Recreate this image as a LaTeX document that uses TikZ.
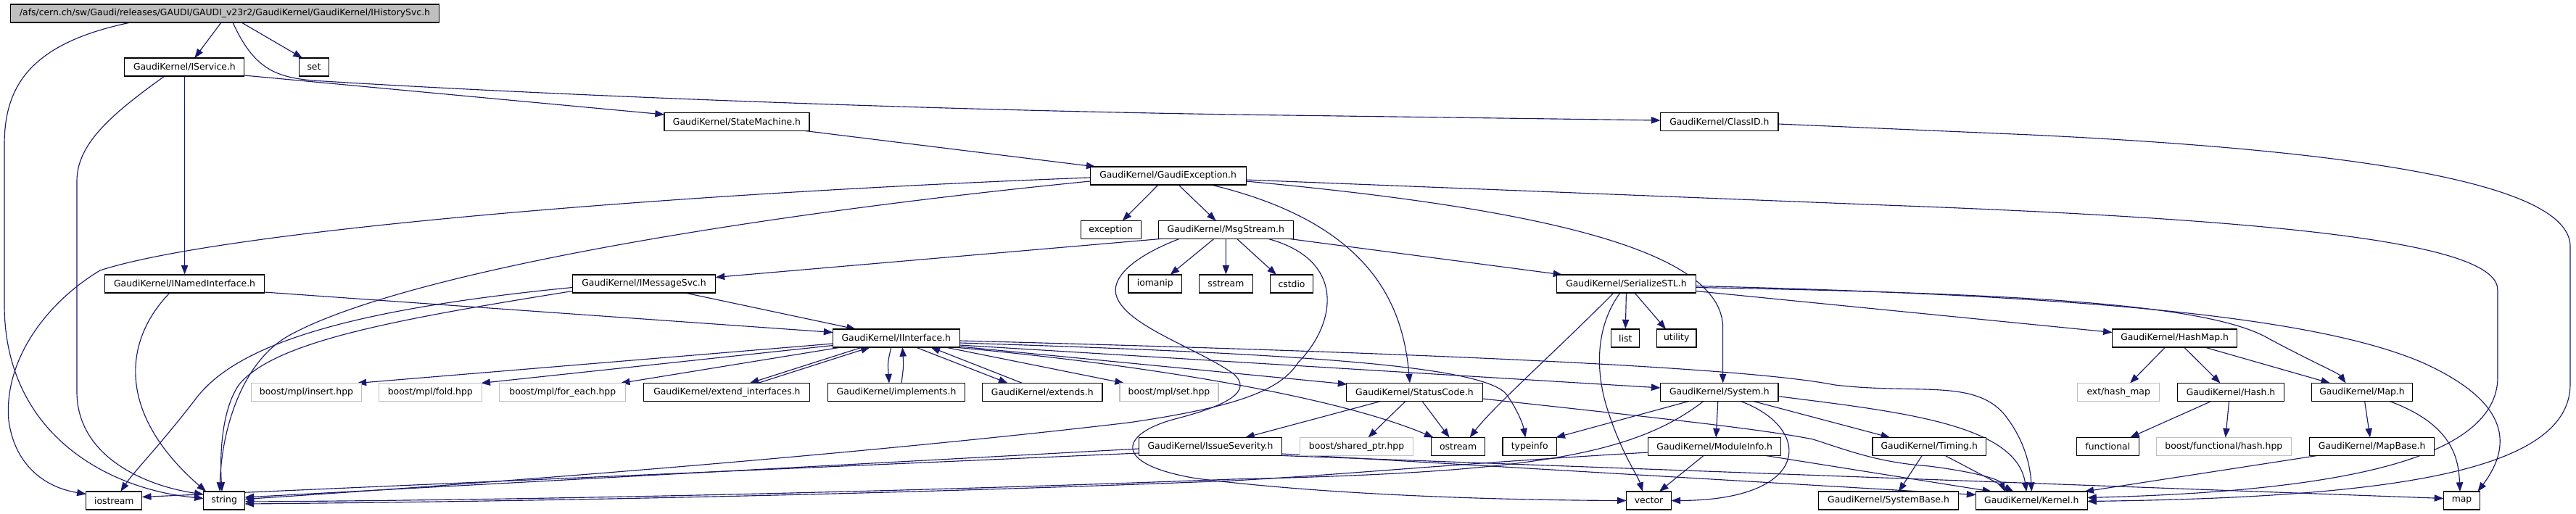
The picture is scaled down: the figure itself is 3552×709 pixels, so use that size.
\documentclass[tikz,border=0pt]{standalone}
\usepackage{fontspec}
\setmainfont{DejaVu Sans}
\usetikzlibrary{arrows.meta,calc,backgrounds}
\definecolor{edgecol}{HTML}{191970}
\definecolor{rootfill}{HTML}{BFBFBF}
\definecolor{missing}{HTML}{BFBFBF}
\newcommand{\fs}{\fontsize{9.3pt}{11pt}\selectfont}
\newcommand{\nd}[5][]{\node[box,#1,minimum width={#4*0.75pt}] (#2) at (#3) {#5};}
\begin{document}
\begin{tikzpicture}[x=0.75pt,y=-0.75pt,
  box/.style={draw=black,line width=0.8pt,fill=white,minimum height=18.75pt,inner sep=0pt,font=\fs},
  gbox/.style={draw=missing},
  lnk/.style={draw=edgecol,line width=0.85pt,-{Triangle[length=9.5pt,width=7pt]}}]
\useasboundingbox (0,0) rectangle (3552,709);
% nodes
\nd[fill=rootfill]{root}{310,18.5}{591}{/afs/cern.ch/sw/Gaudi/releases/GAUDI/GAUDI\_v23r2/GaudiKernel/GaudiKernel/IHistorySvc.h}
\nd{iservice}{254.4,92.5}{165}{GaudiKernel/IService.h}
\nd{set}{433,92.5}{41}{set}
\nd{statemachine}{1016,168}{200}{GaudiKernel/StateMachine.h}
\nd{classid}{2370.8,168}{162.4}{GaudiKernel/ClassID.h}
\nd{gaudiexc}{1610.6,242.5}{215}{GaudiKernel/GaudiException.h}
\nd{exception}{1531.7,317}{83}{exception}
\nd{msgstream}{1690.3,317}{186}{GaudiKernel/MsgStream.h}
\nd{inamed}{254.6,391.5}{220}{GaudiKernel/INamedInterface.h}
\nd{imsgsvc}{888,391.5}{197.3}{GaudiKernel/IMessageSvc.h}
\nd{iomanip}{1592.8,391.5}{73.6}{iomanip}
\nd{sstream}{1690.4,391.5}{73.5}{sstream}
\nd{cstdio}{1781,391.5}{59.7}{cstdio}
\nd{serial}{2242.4,391.5}{191.7}{GaudiKernel/SerializeSTL.h}
\nd{iinterface}{1235.8,466.5}{174.5}{GaudiKernel/IInterface.h}
\nd{list}{2241.3,466.5}{39}{list}
\nd{utility}{2311.7,466.5}{54.5}{utility}
\nd{hashmap}{2998.6,466.5}{171.8}{GaudiKernel/HashMap.h}
\nd[gbox]{insert}{422.5,541}{151.6}{boost/mpl/insert.hpp}
\nd[gbox]{fold}{593.3,541}{141.8}{boost/mpl/fold.hpp}
\nd[gbox]{foreach}{775.8,541}{174}{boost/mpl/for\_each.hpp}
\nd{extint}{1002.4,541}{229}{GaudiKernel/extend\_interfaces.h}
\nd{implements}{1236,541}{189}{GaudiKernel/implements.h}
\nd{extends}{1437.3,541}{165.3}{GaudiKernel/extends.h}
\nd[gbox]{mplset}{1612,541}{136}{boost/mpl/set.hpp}
\nd{statuscode}{1950.5,541}{187.7}{GaudiKernel/StatusCode.h}
\nd{system}{2370.8,541}{162.4}{GaudiKernel/System.h}
\nd[gbox]{hashext}{2921.2,541}{113}{ext/hash\_map}
\nd{hash}{3076,541}{147}{GaudiKernel/Hash.h}
\nd{mapH}{3257,541}{139.7}{GaudiKernel/Map.h}
\nd{issue}{1669,616}{197.3}{GaudiKernel/IssueSeverity.h}
\nd[gbox]{sharedptr}{1870.5,616}{156}{boost/shared\_ptr.hpp}
\nd{ostream}{2010.6,616}{74.6}{ostream}
\nd{typeinfo}{2109.3,616}{74.6}{typeinfo}
\nd{moduleinfo}{2364.2,616}{182.6}{GaudiKernel/ModuleInfo.h}
\nd{timing}{2660.2,616}{156.4}{GaudiKernel/Timing.h}
\nd{functional}{2906.3,616}{85.6}{functional}
\nd[gbox]{boosthash}{3066.3,616}{185.8}{boost/functional/hash.hpp}
\nd{mapbase}{3270.6,616}{171.8}{GaudiKernel/MapBase.h}
\nd{iostream}{157.3,690.5}{77}{iostream}
\nd{string}{309.1,690.5}{56.8}{string}
\nd{vector}{2273.5,690.5}{62}{vector}
\nd{systembase}{2604,690.5}{192.5}{GaudiKernel/SystemBase.h}
\nd{kernel}{2801.3,690.5}{153.6}{GaudiKernel/Kernel.h}
\nd{map}{3394.5,690.5}{50.4}{map}
% edges
\begin{scope}[on background layer]
\fill[white] (0,0) rectangle (3552,709);
\draw[lnk] ($(root)+(-5,12.5)$) -- ($(iservice)+(14,-12.5)$);
\draw[lnk] ($(root)+(23,12.5)$) -- ($(set)+(-16,-12.5)$);
\draw[lnk] ($(root)+(-130,12.5)$) .. controls (40,60) and (6,120) .. (6,200) -- (6,420) .. controls (6,600) and (150,675) .. ($(string)+(-28.4,-3)$);
\draw[lnk] (iservice.south) -- (inamed.north);
\draw[lnk] ($(iservice)+(-27.4,12.5)$) .. controls (150,160) and (106,200) .. (106,250) -- (106,540) .. controls (106,630) and (200,670) .. ($(string)+(-28.4,-8.5)$);
\draw[lnk] ($(iservice)+(82.5,11.5)$) -- ($(statemachine)+(-100,-10)$);
\draw[lnk] ($(root)+(11,12.5)$) .. controls (350,95) and (380,106) .. (430,111) .. controls (700,128) and (1200,150) .. (1700,158) -- ($(classid)+(-81.2,-2)$);
\draw[lnk] ($(classid)+(81.2,3)$) -- (2800,186) .. controls (3300,210) and (3544,260) .. (3544,340) -- (3544,530) .. controls (3544,650) and (3300,686) .. ($(kernel)+(76.8,1)$);
\draw[lnk] ($(gaudiexc)+(107.4,5.5)$) -- (2600,283) .. controls (3200,305) and (3444,340) .. (3444,400) -- (3444,520) .. controls (3444,640) and (3200,678) .. ($(kernel)+(76.8,-4)$);
\draw[lnk] ($(statemachine)+(94,12.5)$) -- ($(gaudiexc)+(-100,-12.5)$);
\draw[lnk] ($(gaudiexc)+(-13.6,12.5)$) -- ($(exception)+(16,-12.5)$);
\draw[lnk] ($(gaudiexc)+(14.4,12.5)$) -- ($(msgstream)+(-13.7,-12.5)$);
\draw[lnk] ($(gaudiexc)+(59.4,12.5)$) .. controls (1900,310) and (1935,430) .. ($(statuscode)+(-6.5,-12.5)$);
\draw[lnk] ($(gaudiexc)+(107.4,7.5)$) .. controls (2150,290) and (2372,350) .. (2375.6,450) -- ($(system)+(4.8,-12.5)$);
\draw[lnk] ($(gaudiexc)+(-107.6,2.5)$) .. controls (900,268) and (300,320) .. (138,373) .. controls (60,420) and (5,500) .. (12,580) .. controls (20,640) and (60,672) .. ($(iostream)+(-38.5,-9)$);
\draw[lnk] ($(gaudiexc)+(-107.6,7.5)$) .. controls (1000,300) and (550,380) .. (400,462) .. controls (330,500) and (305,600) .. ($(string)+(-6,-12.5)$);
\draw[lnk] ($(msgstream)+(-90,12.5)$) -- ($(imsgsvc)+(98.6,-9)$);
\draw[lnk] ($(msgstream)+(-16.5,12.5)$) -- ($(iomanip)+(20.7,-12.5)$);
\draw[lnk] (msgstream.south) -- (sstream.north);
\draw[lnk] ($(msgstream)+(15.4,12.5)$) -- ($(cstdio)+(-21,-12.5)$);
\draw[lnk] ($(msgstream)+(88,12.5)$) -- ($(serial)+(-88,-12.5)$);
\draw[lnk] ($(msgstream)+(-64.3,12.5)$) .. controls (1560,355) and (1530,385) .. (1540,410) .. controls (1555,450) and (1650,480) .. (1700,515) .. controls (1730,540) and (1690,560) .. (1620,578) .. controls (1545,598) and (1530,640) .. (1650,660) .. controls (1850,685) and (2100,690) .. ($(vector)+(-31,0)$);
\draw[lnk] ($(msgstream)+(58.7,12.5)$) .. controls (1860,360) and (1840,450) .. (1790,500) .. controls (1765,540) and (1700,562) .. (1556,583) .. controls (1200,625) and (700,665) .. ($(string)+(28.4,-2)$);
\draw[lnk] ($(iinterface)+(-87.3,7.5)$) -- ($(insert)+(70,-12.5)$);
\draw[lnk] ($(iinterface)+(-87.3,10)$) -- ($(fold)+(70,-12.5)$);
\draw[lnk] ($(iinterface)+(-76,12.5)$) -- ($(foreach)+(80,-12.5)$);
\draw[lnk] ($(iinterface)+(-47,12.5)$) -- ($(extint)+(31.3,-12.5)$);
\draw[lnk] ($(extint)+(42.6,-12.5)$) -- ($(iinterface)+(-36,12.5)$);
\draw[lnk] ($(iinterface)+(-7,12.5)$) .. controls (1224,500) .. ($(implements)+(-10,-12.5)$);
\draw[lnk] ($(implements)+(7,-12.5)$) .. controls (1246,505) .. ($(iinterface)+(8.6,12.5)$);
\draw[lnk] ($(iinterface)+(27,12.5)$) -- ($(extends)+(-47.7,-12.5)$);
\draw[lnk] ($(extends)+(-27.6,-12.5)$) -- ($(iinterface)+(47.6,12.5)$);
\draw[lnk] ($(iinterface)+(67.7,12.5)$) -- ($(mplset)+(-62,-12.5)$);
\draw[lnk] ($(iinterface)+(87.2,3.5)$) .. controls (1900,485) and (2400,505) .. (2530,531) .. controls (2650,545) and (2730,520) .. (2770,580) .. controls (2795,615) and (2800,650) .. ($(kernel)+(0,-12.5)$);
\draw[lnk] ($(iinterface)+(87.2,6.5)$) .. controls (1800,488) and (2050,505) .. (2078,545) .. controls (2092,565) and (2100,585) .. ($(typeinfo)+(-6,-12.5)$);
\draw[lnk] ($(iinterface)+(87.2,9.5)$) -- ($(system)+(-81.2,-6)$);
\draw[lnk] ($(iinterface)+(87.2,11.5)$) -- ($(statuscode)+(-93,-11)$);
\draw[lnk] ($(iinterface)+(80,12.5)$) .. controls (1600,505) and (1850,550) .. ($(ostream)+(-34,-12.5)$);
\draw[lnk] ($(statuscode)+(-46.7,12.5)$) -- ($(issue)+(48,-12.5)$);
\draw[lnk] ($(statuscode)+(-12.5,12.5)$) -- ($(sharedptr)+(16,-12.5)$);
\draw[lnk] ($(statuscode)+(10.5,12.5)$) -- ($(ostream)+(-12,-12.5)$);
\draw[lnk] ($(statuscode)+(93.9,9)$) .. controls (2300,578) and (2430,592) .. (2500,606) .. controls (2550,622) and (2590,638) .. (2660,643) .. controls (2730,652) and (2758,662) .. ($(kernel)+(-37,-12.5)$);
\draw[lnk] ($(issue)+(-98.6,3)$) -- ($(string)+(28.4,-4.5)$);
\draw[lnk] ($(issue)+(-98.6,9)$) -- ($(iostream)+(38.5,-5)$);
\draw[lnk] ($(issue)+(98.7,10)$) -- ($(kernel)+(-76.8,-8)$);
\draw[lnk] ($(issue)+(98.7,12.5)$) -- ($(map)+(-25.2,-3)$);
\draw[lnk] ($(system)+(-42.2,12.5)$) -- ($(typeinfo)+(36,-12.5)$);
\draw[lnk] ($(system)+(-22,12.5)$) .. controls (2250,630) and (2100,652) .. (1700,661) .. controls (1200,680) and (700,690) .. ($(string)+(28.4,1.5)$);
\draw[lnk] ($(system)+(-2,12.5)$) -- ($(moduleinfo)+(2,-12.5)$);
\draw[lnk] ($(system)+(29.2,12.5)$) .. controls (2500,590) and (2500,690) .. ($(vector)+(31,0)$);
\draw[lnk] ($(system)+(46.8,12.5)$) -- ($(timing)+(-54,-12.5)$);
\draw[lnk] ($(system)+(81.2,5.7)$) .. controls (2620,568) and (2780,585) .. ($(kernel)+(-7,-12.5)$);
\draw[lnk] ($(moduleinfo)+(-91.3,8)$) .. controls (2000,640) and (1850,655) .. (1700,663) .. controls (1200,683) and (700,692) .. ($(string)+(28.4,4.5)$);
\draw[lnk] ($(moduleinfo)+(-15.2,12.5)$) -- ($(vector)+(14.5,-12.5)$);
\draw[lnk] ($(moduleinfo)+(70.6,12.5)$) -- ($(kernel)+(-55,-12.5)$);
\draw[lnk] ($(timing)+(-10,12.5)$) -- ($(systembase)+(14,-12.5)$);
\draw[lnk] ($(timing)+(22,12.5)$) -- ($(kernel)+(-25,-12.5)$);
\draw[lnk] ($(serial)+(-17.4,12.5)$) .. controls (2150,480) and (2060,560) .. ($(ostream)+(16,-12.5)$);
\draw[lnk] ($(serial)+(-8.4,12.5)$) .. controls (2200,450) and (2200,510) .. (2215,560) .. controls (2235,625) and (2258,655) .. ($(vector)+(-8.5,-12.5)$);
\draw[lnk] (serial.south) -- (list.north);
\draw[lnk] ($(serial)+(11.6,12.5)$) -- ($(utility)+(-14.7,-12.5)$);
\draw[lnk] ($(serial)+(95.9,10)$) -- ($(hashmap)+(-85.9,-8)$);
\draw[lnk] ($(serial)+(95.9,5)$) .. controls (2800,405) and (3050,420) .. (3130,468) .. controls (3190,500) and (3225,515) .. ($(mapH)+(-22.5,-12.5)$);
\draw[lnk] ($(serial)+(95.9,3)$) .. controls (2900,408) and (3200,440) .. (3340,500) .. controls (3440,545) and (3475,600) .. ($(map)+(22,-12.5)$);
\draw[lnk] ($(hashmap)+(-13,12.5)$) -- ($(hashext)+(15.8,-12.5)$);
\draw[lnk] ($(hashmap)+(13,12.5)$) -- ($(hash)+(-14.5,-12.5)$);
\draw[lnk] ($(hashmap)+(41.4,12.5)$) -- ($(mapH)+(-44,-12.5)$);
\draw[lnk] ($(hash)+(-27,12.5)$) -- ($(functional)+(30.7,-12.5)$);
\draw[lnk] ($(hash)+(-2.4,12.5)$) -- ($(boosthash)+(2.4,-12.5)$);
\draw[lnk] ($(mapH)+(3.6,12.5)$) -- ($(mapbase)+(-2.6,-12.5)$);
\draw[lnk] ($(mapH)+(38,12.5)$) .. controls (3380,585) and (3390,630) .. ($(map)+(-2.5,-12.5)$);
\draw[lnk] ($(mapbase)+(-75.6,12.5)$) -- ($(kernel)+(73,-12.5)$);
\draw[lnk] ($(inamed)+(110,11.5)$) -- ($(iinterface)+(-87.3,-8)$);
\draw[lnk] ($(inamed)+(-20.6,12.5)$) .. controls (170,470) and (160,570) .. ($(string)+(-25,-12.5)$);
\draw[lnk] ($(imsgsvc)+(56.7,12.5)$) -- ($(iinterface)+(-55.8,-12.5)$);
\draw[lnk] ($(imsgsvc)+(-98.7,10)$) .. controls (550,440) and (380,470) .. (330,530) .. controls (305,565) and (303,630) .. ($(string)+(-3,-12.5)$);
\draw[lnk] ($(imsgsvc)+(-98.7,5)$) .. controls (500,425) and (330,470) .. (270,550) .. controls (220,615) and (185,650) .. ($(iostream)+(9,-12.5)$);
\end{scope}
\end{tikzpicture}
\end{document}
